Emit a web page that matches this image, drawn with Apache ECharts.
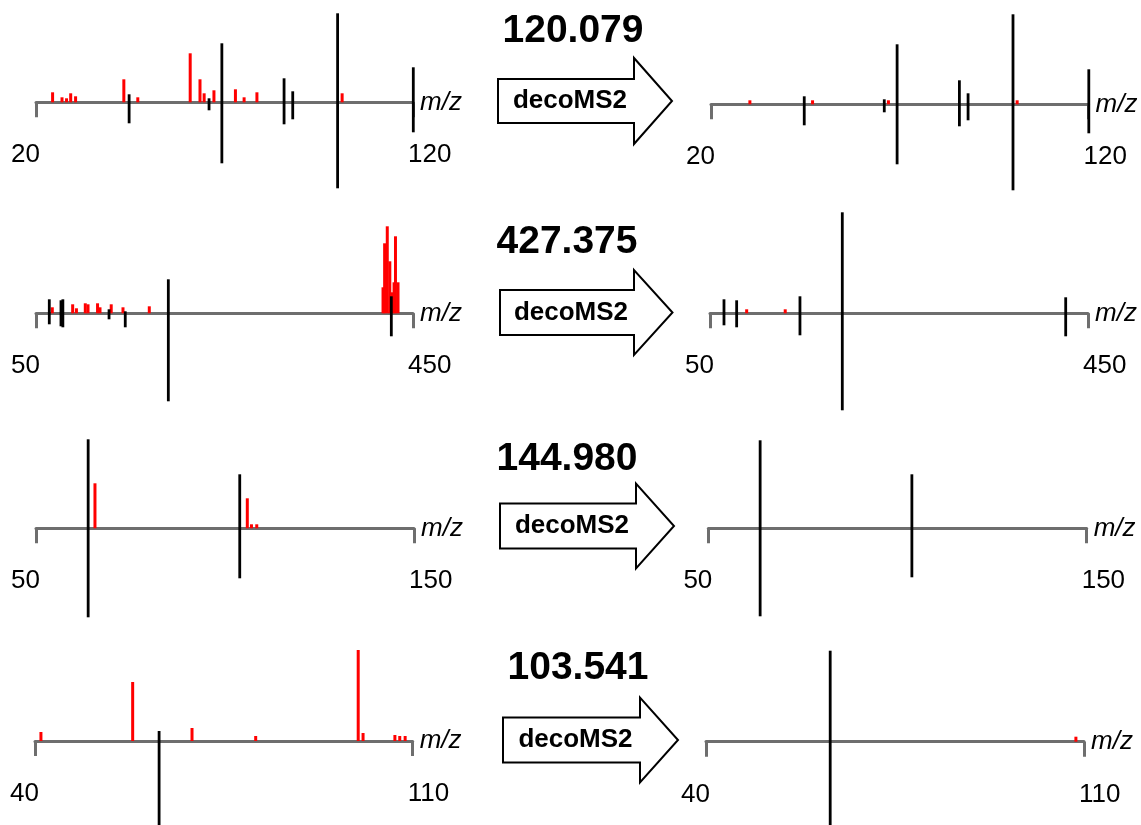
<!DOCTYPE html>
<html>
<head>
<meta charset="utf-8">
<title>decoMS2 spectra</title>
<script src="https://cdn.jsdelivr.net/npm/echarts@6/dist/echarts.min.js"></script>
<style>
  html, body { margin: 0; padding: 0; background: #fff; }
  #chart { width: 1141px; height: 825px; }
</style>
</head>
<body>
<div id="chart"></div>
<script>
// Precursor m/z shown above each arrow
const precursorLabels = ['120.079', '427.375', '144.980', '103.541'];

// m/z range of every row [min, max]
const mzRanges = [[20, 120], [50, 450], [50, 150], [40, 110]];

// Red peaks: [m/z, intensity]; black peaks: [m/z, upper intensity, lower intensity]
const rawRed1 = [[24.4, 10], [26.9, 5], [28.1, 4], [29.2, 9], [30.5, 6], [43.3, 23], [47.0, 5],
  [60.9, 49], [63.5, 23], [64.6, 9], [67.2, 12], [72.9, 13], [75.2, 5], [78.6, 10], [101.2, 9]];
const rawBlack1 = [[44.7, 8, 21], [65.9, 4, 8], [69.3, 59, 61], [85.8, 24, 22], [88.1, 11, 17],
  [100.0, 89, 86], [120.08, 35, 30]];
const decoRed1 = [[30.3, 4], [46.9, 4], [67.0, 4], [101.1, 4]];
const decoBlack1 = [[44.7, 8, 21], [65.9, 5, 8], [69.3, 60, 60], [85.8, 24, 22], [88.1, 11, 16],
  [100.0, 90, 86], [120.08, 35, 29]];

const rawRed2 = [[67.3, 6], [88.9, 9], [92.9, 5], [102.3, 10], [105.2, 9], [115.3, 10], [117.9, 6],
  [129.8, 9], [142.3, 6], [170.2, 7],
  [418.2, 26], [419.9, 70], [422.7, 87], [425.4, 52], [427.7, 21], [429.9, 31], [431.4, 77], [434.1, 31]];
const rawBlack2 = [[64.1, 14, 11], [76.5, 13, 13], [78.5, 14, 14], [127.5, 4, 6], [144.7, 2, 14],
  [190.4, 34, 88], [427.0, 17, 23]];
const decoRed2 = [[88.8, 4], [129.6, 4]];
const decoBlack2 = [[64.8, 14, 12], [78.2, 13, 14], [145.2, 17, 22], [190.0, 101, 97], [426.4, 16, 23]];

const rawRed3 = [[65.6, 45], [105.9, 30], [107.0, 4], [108.4, 4]];
const rawBlack3 = [[63.8, 89, 89], [103.9, 54, 50]];
const decoRed3 = [];
const decoBlack3 = [[63.7, 88, 88], [103.8, 54, 49]];

const rawRed4 = [[41.1, 9], [58.1, 59], [69.1, 13], [80.9, 5], [99.9, 91], [100.8, 8],
  [106.7, 6], [107.6, 5], [108.6, 5]];
const rawBlack4 = [[63.0, 10, 90]];
const decoRed4 = [[108.5, 5]];
const decoBlack4 = [[63.0, 91, 90]];

const panels = [
  [rawRed1, rawBlack1, decoRed1, decoBlack1],
  [rawRed2, rawBlack2, decoRed2, decoBlack2],
  [rawRed3, rawBlack3, decoRed3, decoBlack3],
  [rawRed4, rawBlack4, decoRed4, decoBlack4]
];

// ---- layout (pixels) ----
const FONT = "'Liberation Sans', Arial, Helvetica, sans-serif";
const AXIS_GRAY = '#6e6e6e';
const HALF = 110; // intensity range above the m/z axis; lower peaks extend below the grid
const rowLayout = [
  { baseL: 102.3, baseR: 104.3, left: [36, 413], right: [711, 1088.5],
    title: [573, 31], arrow: { x0: 498, x1: 634, tip: 672, cy: 101, bh: 22, hh: 43 } },
  { baseL: 313.3, baseR: 313.3, left: [36, 413], right: [710, 1088],
    title: [567, 242.5], arrow: { x0: 500, x1: 634, tip: 672.5, cy: 312.5, bh: 22.5, hh: 42.5 } },
  { baseL: 528.3, baseR: 528.3, left: [36, 414], right: [708.3, 1086.7],
    title: [567, 459], arrow: { x0: 500, x1: 636, tip: 674, cy: 526, bh: 22.5, hh: 42.5 } },
  { baseL: 741, baseR: 741.7, left: [35, 412.7], right: [706, 1084],
    title: [578, 668], arrow: { x0: 503, x1: 640, tip: 678, cy: 740, bh: 22.5, hh: 42.5 } }
];

function redItem(params, api) {
  const x = api.value(0), h = api.value(1);
  const p0 = api.coord([x, 0]);
  const p1 = api.coord([x, h]);
  return {
    type: 'rect',
    shape: { x: p0[0] - 1.5, y: p1[1], width: 3, height: p0[1] - p1[1] },
    style: { fill: '#ff0000' }
  };
}

function blackItem(params, api) {
  const x = api.value(0), up = api.value(1), down = api.value(2);
  const top = api.coord([x, up]);
  const bot = api.coord([x, -down]);
  return {
    type: 'rect',
    shape: { x: top[0] - 1.4, y: top[1], width: 2.8, height: bot[1] - top[1] },
    style: { fill: '#000000' }
  };
}

const grids = [], xAxes = [], yAxes = [], series = [], graphics = [];

rowLayout.forEach((row, r) => {
  const [mzMin, mzMax] = mzRanges[r];
  const sides = [
    { base: row.baseL, span: row.left, red: panels[r][0], black: panels[r][1] },
    { base: row.baseR, span: row.right, red: panels[r][2], black: panels[r][3] }
  ];
  sides.forEach(side => {
    const idx = grids.length;
    grids.push({
      left: side.span[0], width: side.span[1] - side.span[0],
      top: side.base - HALF, height: HALF,
      containLabel: false, outerBoundsMode: 'none'
    });
    xAxes.push({
      type: 'value', gridIndex: idx, min: mzMin, max: mzMax, position: 'bottom',
      axisLine: { show: true, onZero: false, lineStyle: { color: AXIS_GRAY, width: 3 } },
      axisTick: { show: true, customValues: [mzMin, mzMax], length: 15, inside: false,
        lineStyle: { color: AXIS_GRAY, width: 3 } },
      axisLabel: { show: true, customValues: [mzMin, mzMax], fontSize: 26, color: '#000',
        fontFamily: FONT, margin: 40, alignMinLabel: 'right', alignMaxLabel: 'left',
        padding: [0, -4, 0, -5], hideOverlap: false },
      splitLine: { show: false },
      name: 'm/z', nameLocation: 'end', nameGap: 7, nameMoveOverlap: false,
      nameTextStyle: { fontStyle: 'italic', fontSize: 26, color: '#000', fontFamily: FONT }
    });
    yAxes.push({ type: 'value', gridIndex: idx, min: 0, max: HALF, show: false });
    series.push({
      type: 'custom', xAxisIndex: idx, yAxisIndex: idx, renderItem: redItem, clip: false,
      data: side.red, encode: { x: 0, y: 1 }, silent: true, z: 2
    });
    series.push({
      type: 'custom', xAxisIndex: idx, yAxisIndex: idx, renderItem: blackItem, clip: false,
      data: side.black, encode: { x: 0, y: [1, 2] }, silent: true, z: 3
    });
  });

  // precursor label
  graphics.push({
    type: 'text', x: row.title[0], y: row.title[1], z: 10,
    style: {
      text: precursorLabels[r], fill: '#000',
      font: 'bold 39px ' + FONT,
      align: 'center', verticalAlign: 'middle',
      textAlign: 'center', textVerticalAlign: 'middle'
    }
  });

  // block arrow with caption
  const a = row.arrow;
  graphics.push({
    type: 'polygon', z: 10,
    shape: {
      points: [
        [a.x0, a.cy - a.bh], [a.x1, a.cy - a.bh], [a.x1, a.cy - a.hh], [a.tip, a.cy],
        [a.x1, a.cy + a.hh], [a.x1, a.cy + a.bh], [a.x0, a.cy + a.bh]
      ]
    },
    style: { fill: '#fff', stroke: '#000', lineWidth: 2, lineJoin: 'miter' }
  });
  graphics.push({
    type: 'text', x: (a.x0 + a.x1) / 2 + 4, y: a.cy, z: 11,
    style: {
      text: 'decoMS2', fill: '#000',
      font: 'bold 26px ' + FONT,
      align: 'center', verticalAlign: 'middle',
      textAlign: 'center', textVerticalAlign: 'middle'
    }
  });
});

const chart = echarts.init(document.getElementById('chart'), null, { renderer: 'canvas' });
chart.setOption({
  backgroundColor: '#ffffff',
  animation: false,
  grid: grids,
  xAxis: xAxes,
  yAxis: yAxes,
  series: series,
  graphic: { elements: graphics }
});
</script>
</body>
</html>
